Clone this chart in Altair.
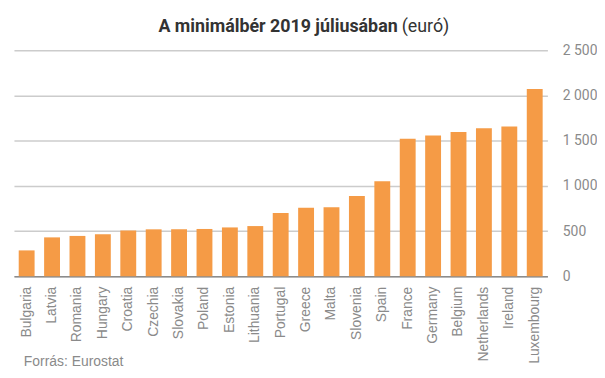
import altair as alt
import pandas as pd

countries = ["Bulgaria", "Latvia", "Romania", "Hungary", "Croatia", "Czechia",
             "Slovakia", "Poland", "Estonia", "Lithuania", "Portugal", "Greece",
             "Malta", "Slovenia", "Spain", "France", "Germany", "Belgium",
             "Netherlands", "Ireland", "Luxembourg"]
values = [286, 430, 446, 464, 506, 519, 520, 523, 540, 555, 700, 758,
          762, 887, 1050, 1521, 1557, 1594, 1636, 1656, 2071]
y_ticks = [0, 500, 1000, 1500, 2000, 2500]
title_bold = "A minimálbér 2019 júliusában"
title_normal = "(euró)"
source = "Forrás: Eurostat"

W, H = 538, 228
df = pd.DataFrame({"country": countries, "value": values})

bars = alt.Chart(df).mark_bar(color="#F59B46").encode(
    x=alt.X("country:N", sort=countries, title=None,
            scale=alt.Scale(paddingInner=0.375, paddingOuter=0.1875),
            axis=alt.Axis(labelAngle=-90, labelFont="Liberation Sans", labelFontSize=14,
                          labelColor="#8a8a8a", labelPadding=10, ticks=False,
                          domainColor="#8c8c8c", domainWidth=1.5, labelAlign="right",
                          labelBaseline="middle")),
    y=alt.Y("value:Q", title=None,
            scale=alt.Scale(domain=[0, 2500], nice=False),
            axis=alt.Axis(orient="right", values=y_ticks, ticks=False, domain=False,
                          labelFont="Roboto", labelFontSize=14, labelColor="#8a8a8a",
                          labelPadding=15, gridColor="#cccccc", gridWidth=1.5,
                          labelExpr="replace(format(datum.value, ','), ',', ' ')")),
)

t1 = alt.Chart(pd.DataFrame({"t": [title_bold]})).mark_text(
    font="Roboto", fontSize=18, fontWeight="bold", color="#333333",
    align="right", baseline="alphabetic").encode(
    text="t:N", x=alt.value(387), y=alt.value(-18))

t2 = alt.Chart(pd.DataFrame({"t": [title_normal]})).mark_text(
    font="Roboto", fontSize=18, color="#333333",
    align="left", baseline="alphabetic").encode(
    text="t:N", x=alt.value(391), y=alt.value(-18))

src = alt.Chart(pd.DataFrame({"t": [source]})).mark_text(
    font="Liberation Sans", fontSize=14, color="#8a8a8a",
    align="left", baseline="alphabetic").encode(
    text="t:N", x=alt.value(10), y=alt.value(H + 91))

chart = alt.layer(bars, t1, t2, src).properties(
    width=W, height=H,
    padding={"left": 6, "right": 0, "top": 9, "bottom": 0},
).configure_view(stroke=None)

chart.save("out.html", embed_options={"renderer": "svg", "actions": False})
